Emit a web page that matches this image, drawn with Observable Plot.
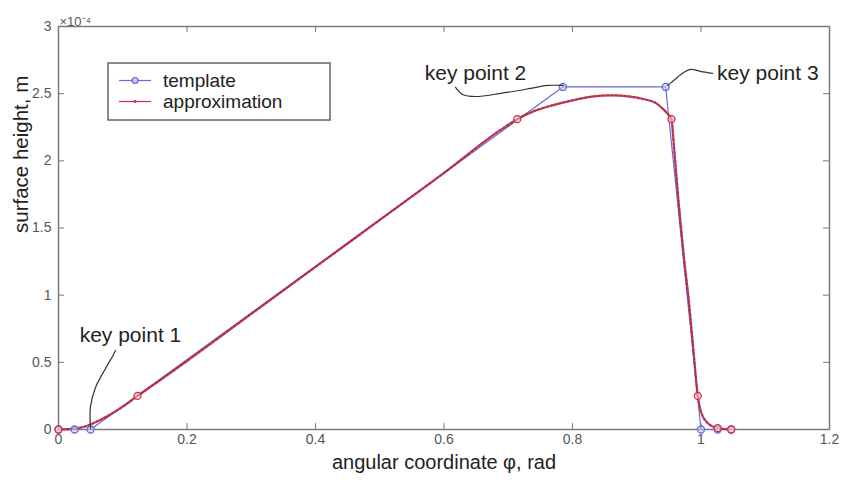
<!DOCTYPE html>
<html>
<head>
<meta charset="utf-8">
<script src="https://cdn.jsdelivr.net/npm/d3@7"></script>
<script src="https://cdn.jsdelivr.net/npm/@observablehq/plot@0.6"></script>
<style>
  html, body { margin: 0; padding: 0; background: white; }
  #wrap { position: relative; width: 842px; height: 482px; font-family: "Liberation Sans", Arial, sans-serif; }
  #legend { position: absolute; left: 107px; top: 62px; }
</style>
</head>
<body>
<div id="wrap"></div>
<script>
// Axis ticks
const xTicks = [0, 0.2, 0.4, 0.6, 0.8, 1, 1.2];
const yTicks = [0, 0.5, 1, 1.5, 2, 2.5, 3];
const yExponentLabel = "×10⁻⁴";
const xLabel = "angular coordinate φ, rad";
const yLabel = "surface height, m";

// Template (blue) polyline, surface height in units of 1e-4 m
const templateX = [0, 0.025, 0.05, 0.785, 0.945, 1.0, 1.026, 1.047];
const templateY = [0, 0, 0, 2.55, 2.55, 0, 0, 0];

// Approximation (red) curve
const approxX = [0, 0.02, 0.04, 0.06, 0.08, 0.1, 0.123, 0.15, 0.2, 0.3, 0.4, 0.5, 0.6, 0.688, 0.714, 0.74, 0.77, 0.8, 0.83, 0.86, 0.89, 0.91, 0.93, 0.94, 0.948, 0.954, 0.958, 0.965, 0.973, 0.981, 0.988, 0.995, 1.0, 1.01, 1.026, 1.047];
const approxY = [0, 0.004, 0.02, 0.06, 0.11, 0.17, 0.25, 0.34, 0.51, 0.86, 1.21, 1.56, 1.91, 2.23, 2.31, 2.37, 2.415, 2.45, 2.478, 2.488, 2.478, 2.46, 2.43, 2.39, 2.35, 2.31, 2.1, 1.7, 1.3, 0.96, 0.6, 0.25, 0.13, 0.05, 0.01, 0];

// Approximation nodes (red circles)
const nodeX = [0, 0.123, 0.714, 0.954, 0.995, 1.026, 1.047];
const nodeY = [0, 0.25, 2.31, 2.31, 0.25, 0.01, 0];

// Annotations
const annotationLabels = ["key point 1", "key point 2", "key point 3"];
const annotationX = [0.112, 0.649, 1.104];
const annotationY = [0.70, 2.651, 2.651];
const leader1X = [0.0498, 0.0498, 0.0576, 0.0732, 0.084, 0.0887];
const leader1Y = [0.007, 0.171, 0.313, 0.454, 0.544, 0.588];
const leader2X = [0.618, 0.629, 0.649, 0.688, 0.735, 0.761, 0.786];
const leader2Y = [2.547, 2.494, 2.479, 2.502, 2.539, 2.561, 2.561];
const leader3X = [0.948, 0.954, 0.963, 0.973, 0.984, 0.999, 1.018];
const leader3Y = [2.561, 2.584, 2.621, 2.658, 2.681, 2.666, 2.651];

const legendLabels = ["template", "approximation"];

const blue = "#6a6ad4";
const red = "#cc2e48";
const axisGray = "#7a7a7a";
const labelGray = "#555";

const zip = (xs, ys) => xs.map((x, i) => ({x, y: ys[i]}));
const template = zip(templateX, templateY);
const approx = zip(approxX, approxY);
const nodes = zip(nodeX, nodeY);
const annotations = annotationLabels.map((t, i) => ({text: t, x: annotationX[i], y: annotationY[i]}));
const leaders = [
  ...zip(leader1X, leader1Y).map(d => ({...d, k: 1})),
  ...zip(leader2X, leader2Y).map(d => ({...d, k: 2})),
  ...zip(leader3X, leader3Y).map(d => ({...d, k: 3}))
];

const W = 842, H = 482, mL = 58, mR = 13, mT = 26, mB = 53;
const innerW = W - mL - mR, innerH = H - mT - mB;

const chart = Plot.plot({
  width: W, height: H,
  marginLeft: mL, marginRight: mR, marginTop: mT, marginBottom: mB,
  x: {domain: [0, 1.2]},
  y: {domain: [0, 3]},
  style: {fontFamily: "'Liberation Sans', Arial, sans-serif", background: "white", overflow: "visible"},
  marks: [
    Plot.axisX(xTicks, {tickSize: 0, tickPadding: 5, fontSize: 14, fill: labelGray, tickFormat: d => String(d), label: null}),
    Plot.axisY(yTicks, {tickSize: 0, tickPadding: 7, fontSize: 14, fill: labelGray, tickFormat: d => String(d), label: null}),
    // inward ticks on all four sides
    Plot.tickX(xTicks, {x: d => d, insetTop: innerH - 6, stroke: axisGray, strokeWidth: 1}),
    Plot.tickX(xTicks, {x: d => d, insetBottom: innerH - 6, stroke: axisGray, strokeWidth: 1}),
    Plot.tickY(yTicks, {y: d => d, insetRight: innerW - 6, stroke: axisGray, strokeWidth: 1}),
    Plot.tickY(yTicks, {y: d => d, insetLeft: innerW - 6, stroke: axisGray, strokeWidth: 1}),
    Plot.frame({stroke: axisGray, strokeWidth: 1.5}),
    // template
    Plot.line(template, {x: "x", y: "y", stroke: blue, strokeWidth: 1.2}),
    // approximation
    Plot.line(approx, {x: "x", y: "y", stroke: red, strokeWidth: 2.2, curve: "monotone-x", strokeOpacity: 0.9}),
    Plot.line(approx, {x: "x", y: "y", stroke: "#8a2a4a", strokeWidth: 2.2, curve: "monotone-x", strokeDasharray: "1.2,3.2", strokeOpacity: 0.5}),
    Plot.dot(template, {x: "x", y: "y", r: 3.5, stroke: blue, strokeWidth: 1.3, fill: "#c9c9f2", fillOpacity: 0.6}),
    Plot.dot(nodes, {x: "x", y: "y", r: 3.5, stroke: red, strokeWidth: 1.3, fill: "#f2c0c8", fillOpacity: 0.6}),
    // leaders and annotations
    Plot.line(leaders, {x: "x", y: "y", z: "k", stroke: "#333", strokeWidth: 1.2, curve: "catmull-rom"}),
    Plot.text(annotations, {x: "x", y: "y", text: "text", fontSize: 21, fill: "#222"}),
    // axis labels
    Plot.text([xLabel], {text: d => d, frameAnchor: "bottom", dy: 39, fontSize: 20, fill: "#222"}),
    Plot.text([yLabel], {text: d => d, frameAnchor: "left", dx: -37, dy: 5, rotate: -90, fontSize: 20.5, fill: "#222"}),
    Plot.text([yExponentLabel], {text: d => d, frameAnchor: "top-left", dx: 1, dy: -10, textAnchor: "start", fontSize: 13, fill: labelGray})
  ]
});

const wrap = document.getElementById("wrap");
wrap.appendChild(chart);

// Legend box placed inside the axes, as in the reference
const legendColors = [blue, red];
const ns = "http://www.w3.org/2000/svg";
const lg = d3.create("svg").attr("id", "legend").attr("width", 225).attr("height", 60)
  .attr("xmlns", ns);
lg.append("rect").attr("x", 1).attr("y", 1).attr("width", 222).attr("height", 57)
  .attr("fill", "white").attr("stroke", "#666").attr("stroke-width", 1.5);
legendLabels.forEach((label, i) => {
  const cy = 18.5 + i * 21;
  const g = lg.append("g");
  g.append("line").attr("x1", 12).attr("x2", 44).attr("y1", cy).attr("y2", cy)
    .attr("stroke", legendColors[i]).attr("stroke-width", 1.2);
  if (i === 0) {
    g.append("circle").attr("cx", 28).attr("cy", cy).attr("r", 3)
      .attr("stroke", legendColors[i]).attr("fill", "#c9c9f2").attr("stroke-width", 1.2);
  } else {
    g.append("circle").attr("cx", 28).attr("cy", cy).attr("r", 1.6).attr("fill", legendColors[i]);
  }
  g.append("text").attr("x", 56).attr("y", cy).attr("dy", "0.35em")
    .attr("font-size", 19).attr("fill", "#222")
    .attr("font-family", "'Liberation Sans', Arial, sans-serif").text(label);
});
wrap.appendChild(lg.node());
</script>
</body>
</html>
